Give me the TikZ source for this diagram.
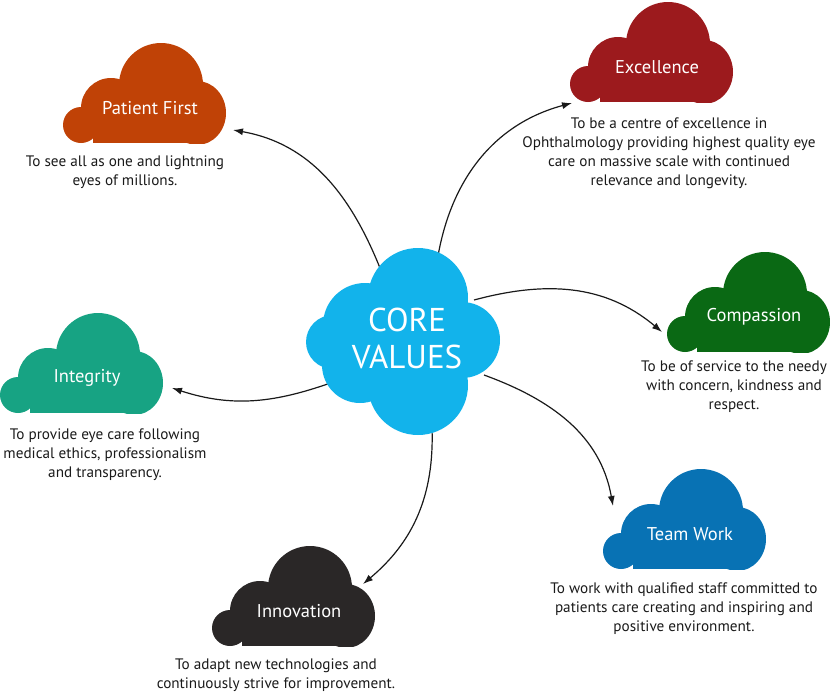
\documentclass[tikz,border=0pt]{standalone}
\usepackage{fontspec}
\setmainfont{PT Sans}
\usepackage{tikz}
\usetikzlibrary{arrows.meta,positioning,calc}
\definecolor{Ink}{HTML}{1A1A1A}
\definecolor{SkyC}{HTML}{12B3EB}
\definecolor{PatientC}{HTML}{C04206}
\definecolor{ExcelC}{HTML}{9C1A1D}
\definecolor{CompC}{HTML}{0A6914}
\definecolor{TeamC}{HTML}{0872B4}
\definecolor{InnovC}{HTML}{2A2727}
\definecolor{IntegC}{HTML}{17A383}
\tikzset{
  >={Latex[length=10pt,width=7pt]},
  cloudlab/.style={text=white,font=\fontsize{18.5}{22}\selectfont,inner sep=0pt},
  corelab/.style={text=white,font=\fontsize{33}{37}\selectfont,align=center,inner sep=0pt},
  desc/.style={text=Ink,font=\fontsize{15.2}{19}\selectfont,align=center,inner sep=0pt},
  link/.style={->,line width=1.2pt,draw=Ink},
  pics/valcloud/.style 2 args={code={
    \begin{scope}
      \clip (-1,1) rectangle (165,-100);
      \fill[#1] (18,-82) circle (18pt);
      \fill[#1] (48,-65) circle (30pt);
      \fill[#1] (98,-42) circle (42pt);
      \fill[#1] (134,-70) ellipse [x radius=29pt,y radius=32pt];
      \fill[#1] (30,-60) rectangle (140,-100);
    \end{scope}
    \node[cloudlab] (-lab) at (87,-65) {#2};
  }}
}
\begin{document}
\begin{tikzpicture}[x=1pt,y=1pt]
  \useasboundingbox (0,0) rectangle (830,-694);

  \pic (pf) at (63,-43) {valcloud={PatientC}{Patient First}};
  \pic (ex) at (570,-2) {valcloud={ExcelC}{Excellence}};
  \pic (cp) at (667,-252) {valcloud={CompC}{Compassion}};
  \pic (tw) at (603,-469) {valcloud={TeamC}{Team Work}};
  \pic (in) at (212,-546) {valcloud={InnovC}{Innovation}};
  \pic (ig) at (0,-313) {valcloud={IntegC}{Integrity}};

  \node[desc] (pf-txt) at (125,-172) {To see all as one and lightning\\eyes of millions.};
  \node[desc] (ex-txt) at (669,-153) {To be a centre of excellence in\\Ophthalmology providing highest quality eye\\care on massive scale with continued\\relevance and longevity.};
  \node[desc] (cp-txt) at (734,-387) {To be of service to the needy\\with concern, kindness and\\respect.};
  \node[desc] (tw-txt) at (684,-609) {To work with qualified staff committed to\\patients care creating and inspiring and\\positive environment.};
  \node[desc] (in-txt) at (276,-675) {To adapt new technologies and\\continuously strive for improvement.};
  \node[desc] (ig-txt) at (105,-455) {To provide eye care following\\medical ethics, professionalism\\and transparency.};

  \coordinate (c-pf) at (380,-268);
  \coordinate (c-ex) at (438,-256);
  \coordinate (c-cp) at (474,-300);
  \coordinate (c-tw) at (484,-375);
  \coordinate (c-in) at (432,-428);
  \coordinate (c-ig) at (336,-381);
  \coordinate (pf-in) at (233,-130);
  \coordinate (ex-in) at (572,-103);
  \coordinate (cp-in) at (662,-332);
  \coordinate (tw-in) at (613,-506);
  \coordinate (in-in) at (363,-584);
  \coordinate (ig-in) at (172,-388);

  \draw[link] (c-pf) to[out=112,in=-10] (pf-in);
  \draw[link] (c-ex) to[out=80,in=195] (ex-in);
  \draw[link] (c-cp) to[out=15,in=140] (cp-in);
  \draw[link] (c-tw) to[out=-20,in=100] (tw-in);
  \draw[link] (c-in) to[out=-88,in=40] (in-in);
  \draw[link] (c-ig) to[out=200,in=-18] (ig-in);

  \fill[SkyC] (410,-340) circle (60pt);
  \fill[SkyC] (418,-298) circle (50pt);
  \fill[SkyC] (333,-342) circle (27pt);
  \fill[SkyC] (365,-325) circle (42pt);
  \fill[SkyC] (462,-340) circle (38pt);
  \fill[SkyC] (418,-385) circle (50pt);
  \fill[SkyC] (360,-365) circle (38pt);
  \node[corelab] (core) at (407,-338) {CORE\\VALUES};
\end{tikzpicture}
\end{document}
